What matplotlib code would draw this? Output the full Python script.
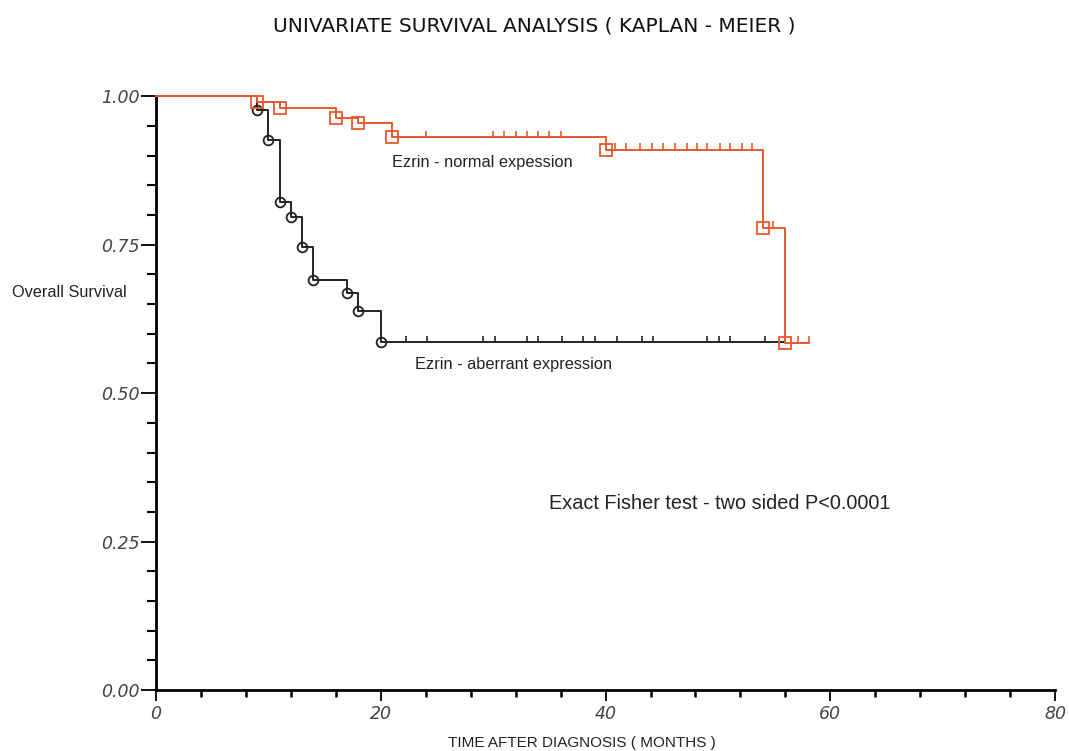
import numpy as np
import matplotlib.pyplot as plt
from matplotlib.ticker import MultipleLocator

# Kaplan-Meier data (months, survival)
normal_times = [9, 11, 16, 18, 21, 40, 54, 56]
normal_surv = [0.990, 0.980, 0.963, 0.955, 0.931, 0.910, 0.778, 0.585]
normal_censored = [24, 30, 31, 32, 33, 34, 35, 36, 40.8, 41.8, 43.1, 44.1, 45.1,
                   46.2, 47.2, 48.1, 49, 50.2, 51.1, 52.1, 53, 54.9, 57.1, 58.1]
normal_end = 58.1

aberrant_times = [9, 10, 11, 12, 13, 14, 17, 18, 20]
aberrant_surv = [0.976, 0.926, 0.822, 0.797, 0.746, 0.691, 0.668, 0.639, 0.586]
aberrant_censored = [22.2, 24.1, 29.1, 30.2, 33, 34, 36.1, 38, 39.1, 41, 43.2,
                     44.2, 49, 50.1, 51.1, 54.2]
aberrant_end = 56

y_ticks = [0, 0.25, 0.5, 0.75, 1.0]
y_labels = ['0.00', '0.25', '0.50', '0.75', '1.00']
x_ticks = [0, 20, 40, 60, 80]
x_labels = ['0', '20', '40', '60', '80']

orange = '#e8582e'
text_color = '#222222'
font = ['Liberation Sans', 'DejaVu Sans']


def survival_at(t, times, surv):
    s = 1.0
    for ti, si in zip(times, surv):
        if ti <= t:
            s = si
    return s


def km_curve(ax, times, surv, censored, end, color, marker, ms, z):
    x = [0] + list(times) + [end]
    y = [1.0] + list(surv) + [surv[-1]]
    ax.step(x, y, where='post', color=color, lw=1.4, clip_on=False, zorder=z)
    ax.plot(times, surv, linestyle='none', marker=marker, ms=ms,
            mfc='none', mec=color, mew=1.3, clip_on=False, zorder=z + 1)
    levels = [survival_at(t, times, surv) for t in censored]
    ax.vlines(censored, levels, np.array(levels) + 0.011, color=color, lw=1.2, zorder=z)


fig = plt.figure(figsize=(10.69, 7.51), dpi=100)
ax = fig.add_axes([0.146, 0.081, 0.841, 0.791])

# aberrant first so the shared start at 1.00 shows in orange
km_curve(ax, aberrant_times, aberrant_surv, aberrant_censored, aberrant_end, '#222222', 'o', 7, 3)
km_curve(ax, normal_times, normal_surv, normal_censored, normal_end, orange, 's', 9, 5)

ax.set_xlim(0, 80)
ax.set_ylim(0, 1)
for side in ['top', 'right']:
    ax.spines[side].set_visible(False)
for side in ['left', 'bottom']:
    ax.spines[side].set_linewidth(2)
ax.xaxis.set_minor_locator(MultipleLocator(4))
ax.yaxis.set_minor_locator(MultipleLocator(0.05))
ax.set_yticks(y_ticks)
ax.set_yticklabels(y_labels, style='italic')
ax.set_xticks(x_ticks)
ax.set_xticklabels(x_labels, style='italic')
ax.tick_params(axis='y', which='major', length=11, width=1.3, pad=1)
ax.tick_params(axis='y', which='minor', length=6.5, width=1.5)
ax.tick_params(axis='x', which='major', length=8, width=1.3, pad=2.5)
ax.tick_params(axis='x', which='minor', length=5, width=1.8)
ax.tick_params(which='major', labelsize=12.5, labelcolor='#444444')

fig.text(0.50, 0.966, 'UNIVARIATE SURVIVAL ANALYSIS ( KAPLAN - MEIER )',
         ha='center', va='center', fontsize=14.5, family='DejaVu Sans', color='#111111')
fig.text(0.011, 0.610, 'Overall Survival', ha='left', va='center', fontsize=11.7,
         family=font, color=text_color)
fig.text(0.544, 0.011, 'TIME AFTER DIAGNOSIS ( MONTHS )', ha='center', va='center',
         fontsize=11, family=font, color=text_color)
ax.text(21, 0.889, 'Ezrin - normal expession', fontsize=11.8, family=font,
        color=text_color, va='center')
ax.text(23, 0.548, 'Ezrin - aberrant expression', fontsize=11.8, family=font,
        color=text_color, va='center')
ax.text(35, 0.315, 'Exact Fisher test - two sided P<0.0001', fontsize=14.3,
        family=font, color=text_color, va='center')

fig.savefig('out.png', dpi=100)
